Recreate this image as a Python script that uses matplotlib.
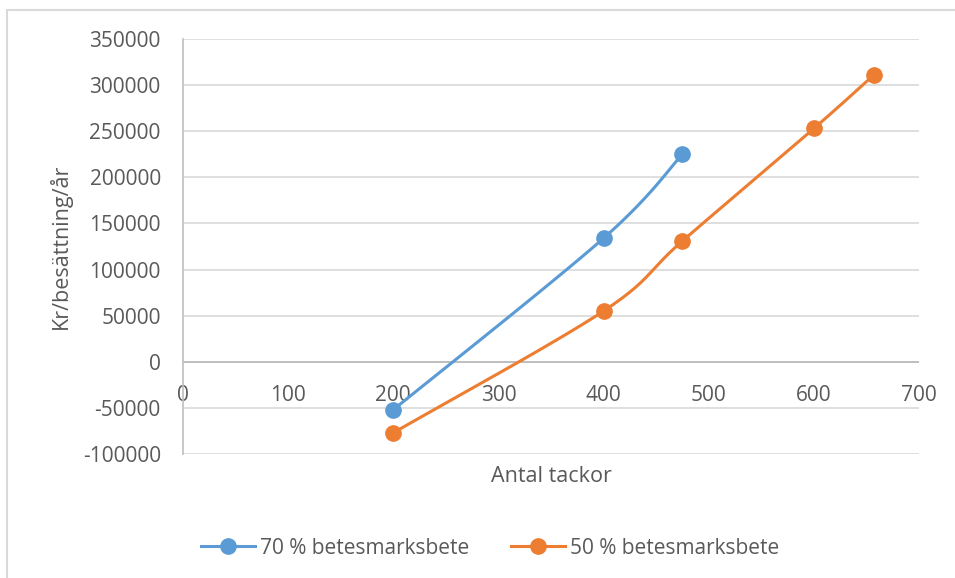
import numpy as np
import matplotlib
matplotlib.use("Agg")
import matplotlib.pyplot as plt
from matplotlib.patches import Rectangle

# ---- data ----
series_names = ["70 % betesmarksbete", "50 % betesmarksbete"]
x70 = [200, 400, 475]
y70 = [-52000, 134000, 225000]
x50 = [200, 400, 475, 600, 657]
y50 = [-77000, 55000, 131000, 253000, 311000]
x_ticks = [0, 100, 200, 300, 400, 500, 600, 700]
y_ticks = [-100000, -50000, 0, 50000, 100000, 150000, 200000, 250000, 300000, 350000]
x_title = "Antal tackor"
y_title = "Kr/besättning/år"

colors = ["#5B9BD5", "#ED7D31"]
txt_color = "#595959"
plt.rcParams['font.family'] = ['Open Sans', 'DejaVu Sans']

W, H = 955, 578
fig = plt.figure(figsize=(W / 100, H / 100), dpi=100)
L, R, T, B = 183, 919, 39, 454
ax = fig.add_axes([L / W, 1 - B / H, (R - L) / W, (B - T) / H])
xmin, xmax = 0, 700
ymin, ymax = -100000, 350000
ax.set_xlim(xmin, xmax)
ax.set_ylim(ymin, ymax)
sx = (R - L) / (xmax - xmin)
sy = (B - T) / (ymax - ymin)


def smooth(xs, ys, n=40):
    # Excel-like smoothed line (Catmull-Rom Bezier) computed in pixel space
    px = np.array(xs, float) * sx
    py = np.array(ys, float) * sy
    P = np.column_stack([px, py])
    out = []
    for i in range(len(P) - 1):
        p0 = P[i - 1] if i > 0 else P[i]
        p1 = P[i]
        p2 = P[i + 1]
        p3 = P[i + 2] if i + 2 < len(P) else P[i + 1]
        c1 = p1 + (p2 - p0) / 6
        c2 = p2 - (p3 - p1) / 6
        t = np.linspace(0, 1, n)[:, None]
        seg = ((1 - t) ** 3) * p1 + 3 * ((1 - t) ** 2) * t * c1 + 3 * (1 - t) * t ** 2 * c2 + t ** 3 * p2
        out.append(seg if i == 0 else seg[1:])
    S = np.vstack(out)
    return S[:, 0] / sx, S[:, 1] / sy


for xs, ys, c, name in [(x70, y70, colors[0], series_names[0]), (x50, y50, colors[1], series_names[1])]:
    cx, cy = smooth(xs, ys)
    ax.plot(cx, cy, color=c, lw=2.2, solid_capstyle='round', zorder=3)
    ax.plot(xs, ys, 'o', color=c, ms=11, zorder=4)
    ax.plot([], [], '-o', color=c, lw=2.2, ms=11, label=name)

ax.set_yticks(y_ticks)
ax.set_xticks(x_ticks)
ax.set_yticklabels([str(v) for v in y_ticks])
ax.set_xticklabels([str(v) for v in x_ticks])
ax.yaxis.grid(True, color="#d9d9d9", lw=1.2)
ax.set_axisbelow(True)
ax.axhline(0, color="#bfbfbf", lw=1.4, zorder=1)
for s in ["top", "right"]:
    ax.spines[s].set_visible(False)
ax.spines["left"].set_color("#bfbfbf")
ax.spines["left"].set_linewidth(1.2)
ax.spines["bottom"].set_position(("data", 0))
ax.spines["bottom"].set_visible(False)
ax.tick_params(axis="both", length=0, labelsize=15, labelcolor=txt_color)
ax.tick_params(axis="y", pad=16)
ax.tick_params(axis="x", pad=16.5)

fig.text(60 / W, 1 - 246 / H, y_title, rotation=90, ha="center", va="center",
         fontsize=15.5, color=txt_color)
fig.text(551 / W, 1 - 476 / H, x_title, ha="center", va="center",
         fontsize=15.5, color=txt_color)

leg = fig.legend(loc="center", bbox_to_anchor=(490 / W, 1 - 548 / H), ncol=2, frameon=False,
                 fontsize=15, handlelength=2.6, handletextpad=0.25, columnspacing=2.0)
for t in leg.get_texts():
    t.set_color(txt_color)

fig.patches.append(Rectangle((7 / W, -0.1), 1.2, 1 - 10 / H + 0.1, transform=fig.transFigure,
                             fill=False, edgecolor="#d9d9d9", lw=1.5))

fig.savefig("out.png", dpi=100, facecolor="white")
